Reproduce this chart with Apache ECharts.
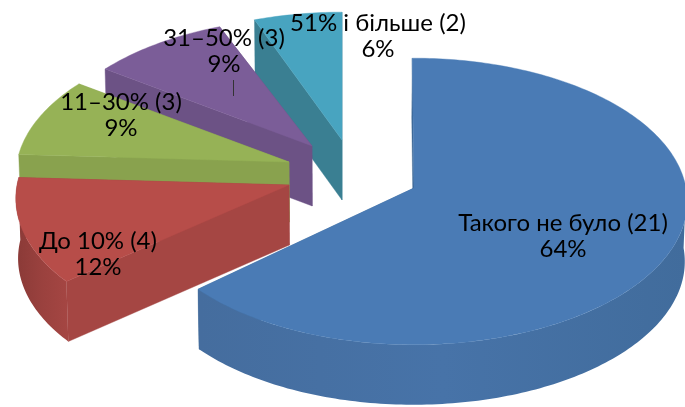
<!DOCTYPE html>
<html><head><meta charset="utf-8">
<style>html,body{margin:0;padding:0;background:#fff}#c{width:685px;height:407px}</style>
<script src="https://cdn.jsdelivr.net/npm/echarts@6/dist/echarts.min.js"></script>
</head><body><div id="c"></div>
<script>
const categories = ["Такого не було", "До 10%", "11–30%", "31–50%", "51% і більше"];
const values = [21, 4, 3, 3, 2];
const percents = ["64%", "12%", "9%", "9%", "6%"];

// layout and style, separate from the data
const apexes = [[414,188],[289,185],[289,162],[312,146],[342,140]];
const labelPos = [[563,223],[98,241],[121,102],[224,38],[378,23]];
const angleNudges = [[-0.4,-1],[1.2,0.3],[0.3,0],[0,-0.2],[1,0]];
const radialScale = [1, 1, 1, 0.985, 0.985];
const colors = [
 {top:'#4a7bb5', cut:'#3c6796', side:['#456d9e','#4773a8','#416c9c']},
 {top:'#b74d49', cut:'#a54643', side:['#8a3a37','#9a413e','#a54643']},
 {top:'#96b256', cut:'#89a24e', side:['#89a24e','#89a24e','#89a24e']},
 {top:'#7b5d98', cut:'#6c5285', side:['#6c5285','#6c5285','#6c5285']},
 {top:'#48a4c0', cut:'#3a7f92', side:['#3a7f92','#3a7f92','#3a7f92']}
];
const RX = 272, RY = 142, K = 0.094, DEPTH = 60, VX = 342;
const total = values.reduce((a, b) => a + b, 0);

function project(apex, deg, scale) {
  const r = deg * Math.PI / 180, s = Math.sin(r), v = -Math.cos(r), w = 1 - K * v;
  return [apex[0] + scale * RX * s / w, apex[1] + scale * RY * v / w];
}
function drop(p) { return [VX + (p[0] - VX) * 0.993, p[1] + DEPTH]; }
function rim(apex, a0, a1, scale) {
  const pts = [], n = Math.max(2, Math.ceil(Math.abs(a1 - a0)));
  for (let i = 0; i <= n; i++) pts.push(project(apex, a0 + (a1 - a0) * i / n, scale));
  return pts;
}
function renderItem(params, api) {
  const i = params.dataIndex;
  let before = 0;
  for (let j = 0; j < i; j++) before += values[j];
  const a0 = angleNudges[i][0] + before / total * 360;
  const a1 = angleNudges[i][1] + (before + api.value(0)) / total * 360;
  const apex = apexes[i], c = colors[i], base = (values.length - i) * 10, sc = radialScale[i];
  const poly = (points, fill, z) => ({type:'polygon', z2: base + z, shape:{points},
    style:{fill, stroke: fill, lineWidth: 0.4}, silent:true});
  const children = [];
  const face = (deg, z) => {
    const p = project(apex, deg, sc);
    children.push(poly([apex, p, drop(p), drop(apex)], c.cut, z));
  };
  face(a1, 0);
  const s0 = Math.max(a0, 90), s1 = Math.min(a1, 272);
  if (s1 > s0) {
    const front = rim(apex, s0, s1, sc);
    const outline = front.concat(front.map(drop).reverse());
    const xs = outline.map(p => p[0]), x0 = Math.min(...xs), x1 = Math.max(...xs);
    const grad = new echarts.graphic.LinearGradient(x0, 0, x1, 0,
      [{offset:0,color:c.side[0]},{offset:0.5,color:c.side[1]},{offset:1,color:c.side[2]}], true);
    children.push({type:'polygon', z2: base + 1, shape:{points:outline}, silent:true,
      style:{fill:grad}});
  }
  face(a0, 2);
  children.push(poly([apex].concat(rim(apex, a0, a1, sc)), c.top, 3));
  const lp = labelPos[i];
  children.push({type:'text', z2: 1000, silent:true, x: lp[0], y: lp[1] - 13,
    style:{text: categories[i] + ' (' + api.value(0) + ')\n' + percents[i],
      font:'24px Lato', fill:'#000', align:'center', verticalAlign:'top', lineHeight:26}});
  if (i === 3) children.push({type:'line', z2: 1000, silent:true,
    shape:{x1:233.5,y1:80,x2:233.5,y2:96}, style:{stroke:'#333',lineWidth:1}});
  return {type:'group', children};
}
const chart = echarts.init(document.getElementById('c'), null, {renderer:'canvas'});
chart.setOption({
  animation:false,
  backgroundColor:'#fff',
  series:[{type:'custom', coordinateSystem:'none', renderItem,
    data: values.map(v => [v]), clip:false}]
});
</script></body></html>
